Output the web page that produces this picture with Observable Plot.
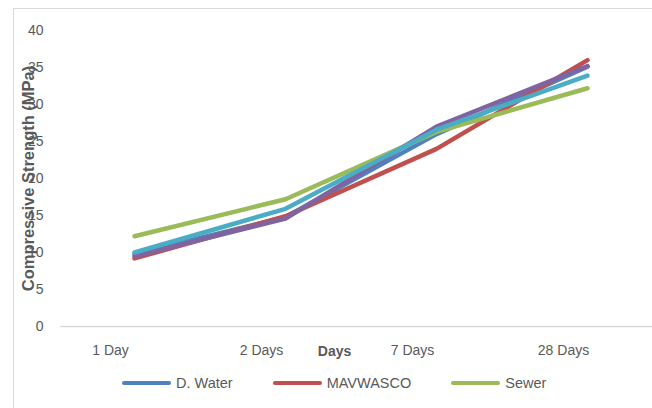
<!DOCTYPE html>
<html><head><meta charset="utf-8">
<script src="https://cdn.jsdelivr.net/npm/d3@7"></script>
<script src="https://cdn.jsdelivr.net/npm/@observablehq/plot@0.6"></script>
<style>
body{margin:0;background:#fff;font-family:"Liberation Sans",Arial,sans-serif;}
#wrap{position:relative;width:652px;height:408px;overflow:hidden;background:#fff;}
#frame{position:absolute;left:13px;top:8px;width:720px;height:520px;border:1.5px solid #d9d9d9;box-sizing:border-box;}
#chart{position:absolute;left:0;top:0;}
#legend{position:absolute;left:0;top:364px;width:652px;height:38px;display:flex;align-items:center;padding-left:122px;box-sizing:border-box;font-size:14.5px;color:#595959;}
.item{display:flex;align-items:center;margin-right:40px;}
.sw{width:49px;height:4.5px;border-radius:3px;margin-right:5px;}
svg [aria-label="y-axis label"]{font-weight:bold;font-size:16.5px;}
</style></head>
<body>
<div id="wrap"><div id="frame"></div><div id="chart"></div><div id="legend"></div></div>
<script>
const days = ["1 Day", "2 Days", "7 Days", "28 Days"];
const seriesNames = ["D. Water", "MAVWASCO", "Sewer", "Series4", "Series5"];
const seriesColors = ["#4F81BD", "#C0504D", "#9BBB59", "#8064A2", "#4BACC6"];
const dWater   = [9.8, 14.8, 26.0, 35.1];
const mavwasco = [9.2, 14.9, 24.0, 36.0];
const sewer    = [12.2, 17.2, 26.3, 32.2];
const series4  = [9.5, 14.6, 27.0, 35.2];
const series5  = [10.0, 15.9, 26.6, 33.9];
const yTicks = [0, 5, 10, 15, 20, 25, 30, 35, 40];
const legendNames = ["D. Water", "MAVWASCO", "Sewer"];

const allValues = [dWater, mavwasco, sewer, series4, series5];
const data = allValues.flatMap((vals, k) => days.map((d, i) => ({day: d, value: vals[i], name: seriesNames[k]})));

const chart = Plot.plot({
  width: 652, height: 370,
  marginLeft: 60, marginRight: 0, marginTop: 30, marginBottom: 44,
  style: {fontFamily: '"Liberation Sans", Arial, sans-serif', fontSize: "14px", color: "#595959", background: "transparent"},
  x: {type: "point", domain: days, range: [133, 588], padding: 0},
  y: {domain: [0, 40]},
  color: {domain: seriesNames, range: seriesColors},
  marks: [
    Plot.axisY({ticks: yTicks, tickSize: 0, tickPadding: 17, label: "Compressive Strength (MPa)", labelAnchor: "center", labelArrow: "none", labelOffset: 38}),
    Plot.axisX({tickSize: 0, tickPadding: 19, dx: -24, label: null}),
    Plot.ruleY([0], {stroke: "#d9d9d9", strokeWidth: 1.5}),
    Plot.line(data, {x: "day", y: "value", stroke: "name", z: "name", strokeWidth: 4.5, strokeLinecap: "round", strokeLinejoin: "round"}),
    Plot.text(["Days"], {frameAnchor: "bottom", dx: -22, dy: 29, fontWeight: "bold", fontSize: 14, fill: "#595959"})
  ]
});
document.getElementById("chart").appendChild(chart);

const legend = document.getElementById("legend");
legendNames.forEach(n => {
  const it = document.createElement("div"); it.className = "item";
  const sw = document.createElement("div"); sw.className = "sw";
  sw.style.background = seriesColors[seriesNames.indexOf(n)];
  const t = document.createElement("span"); t.textContent = n;
  it.appendChild(sw); it.appendChild(t); legend.appendChild(it);
});
</script>
</body></html>
